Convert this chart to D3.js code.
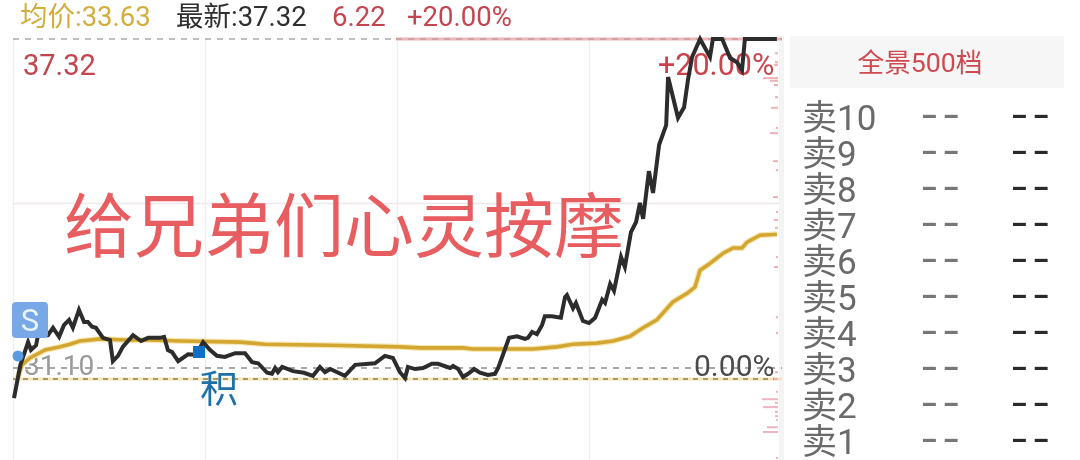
<!DOCTYPE html>
<html><head><meta charset="utf-8">
<script src="https://cdn.jsdelivr.net/npm/d3@7/dist/d3.min.js"></script>
<style>html,body{margin:0;padding:0;background:#fff}svg{display:block}
text{font-family:Roboto,"Noto Sans CJK SC",sans-serif}</style></head><body>
<div id="chart"></div>
<script>
const priceMinutes=[0,2,2.5,4.4,5.3,6.9,8.1,8.8,10.6,12.2,14.1,15.6,17.2,18.4,20.3,21.9,23.1,24.4,25.6,27.8,30,30.9,32.5,34,37.2,39.7,41.9,45.6,46.9,48.1,49.4,51.3,54.4,56.9,59.1,61.3,63.4,65.9,69.1,72.2,74.4,76.3,79.1,80.6,81.6,82.5,83.8,87.2,90.6,93.4,95.6,97.2,98.8,103.4,106.6,112.8,115.9,118.4,120.6,122.2,123.1,125.3,127.8,130.6,132.5,136.3,137.2,138.8,140.3,141.9,143.8,145.6,148.1,150.3,151.3,152.8,154.7,157.2,159.7,160.6,161.9,163.4,165,165.9,168.1,170.9,172.2,172.8,174.7,175.6,177.8,179.7,181.6,183.8,184.7,186.3,187.5,189.7,190.9,192.8,194.4,195.6,196.6,198.4,199.7,201.6,203.8,204.4,207.5,209.4,210.6,211.9,214.4,217.5,218.4,221.3,223.8,225.9,227.5,228.4,238.4];
const priceValues=[30.53,31.16,31.25,31.59,31.44,31.53,31.91,31.72,31.72,31.86,31.69,31.91,32.01,31.86,32.20,31.97,31.97,31.88,31.86,31.67,31.63,31.23,31.33,31.50,31.72,31.61,31.67,31.67,31.69,31.44,31.40,31.23,31.36,31.35,31.59,31.44,31.33,31.31,31.38,31.38,31.21,31.19,31.01,30.99,31.10,31.02,31.12,31.04,31.01,30.95,31.12,31.02,31.08,30.95,31.16,31.19,31.33,31.29,31.02,30.91,31.12,31.08,31.10,31.18,31.18,31.10,31.14,31.08,30.93,30.99,31.08,31.01,30.97,30.99,31.10,31.35,31.67,31.70,31.65,31.67,31.78,31.74,31.91,32.08,32.08,32.05,32.44,32.48,32.23,32.33,31.99,31.95,32.05,32.39,32.33,32.69,32.56,33.20,33.01,33.67,33.86,34.22,33.92,34.82,34.41,35.32,35.69,36.60,35.83,36.03,36.54,36.98,37.32,36.98,37.32,37.32,36.96,36.88,36.73,37.32,37.32];
const avgMinutes=[1,2.5,5,9.7,14.4,17.5,20.6,23.8,26.9,34.7,42.5,51.9,70.6,78.4,98.8,120.6,126.9,140.3,143.4,162.2,169.7,174.7,182.2,187.2,192.5,196.6,200.9,205.9,210.6,212.8,214.4,216.9,221.6,224.7,227.5,229.1,233.1,238.4];
const avgValues=[30.89,31.16,31.29,31.44,31.50,31.55,31.61,31.63,31.65,31.63,31.63,31.61,31.59,31.55,31.53,31.50,31.48,31.48,31.46,31.46,31.50,31.55,31.57,31.61,31.70,31.86,32.01,32.35,32.52,32.63,32.95,33.05,33.27,33.37,33.37,33.48,33.61,33.63];
const depthPrices=[37.05,36.88,36.83,36.58,36.53,36.45,36.22,36.02,35.64,35.54,35.01,34.84,34.33,34.05,33.90,33.75,33.20,33.01,32.06,31.76,31.02,30.89,30.65,30.51,30.44,30.36,30.27,30.19,30.12,29.98,29.89,29.40];
const depthVolumes=[3,3,4,15,8,4,3,7,2,8,5,2,5,2,4,3,2,4,2,2,3,4,2,16,3,15,3,3,2,11,15,2];
const gridMinutes=[60,120,180];
const sellLabels=["卖10","卖9","卖8","卖7","卖6","卖5","卖4","卖3","卖2","卖1"];
const prevClose=31.10, limitUp=37.32, openPrice=30.89, midPrice=34.21;

const W=1080,H=460;
const svg=d3.select("#chart").append("svg").attr("width",W).attr("height",H).style("filter","blur(0.5px)");
const x=d3.scaleLinear().domain([0,240]).range([14,782]);
const y=d3.scaleLinear().domain([31.10,37.32]).range([368,39]);
const w=d3.scaleLinear().domain([0,16]).range([0,16]);

// grid
svg.append("g").selectAll("line").data([0,...gridMinutes]).join("line")
 .attr("x1",d=>x(d)-0.5).attr("x2",d=>x(d)-0.5).attr("y1",39).attr("y2",H)
 .attr("stroke","#eeeeee").attr("stroke-width",1.5);
svg.append("rect").attr("x",779).attr("y",36).attr("width",5).attr("height",H-36).attr("fill","#f4f4f4");
svg.append("line").attr("x1",14).attr("x2",779).attr("y1",y(midPrice)).attr("y2",y(midPrice)).attr("stroke","#efe8e8").attr("stroke-width",1.5);

// reference lines
svg.append("line").attr("x1",13).attr("x2",x(120)).attr("y1",y(limitUp)).attr("y2",y(limitUp))
 .attr("stroke","#aaa").attr("stroke-width",1.5).attr("stroke-dasharray","6 6");
svg.append("line").attr("x1",x(120)-2).attr("x2",782).attr("y1",y(limitUp)).attr("y2",y(limitUp))
 .attr("stroke","#eeb8bb").attr("stroke-width",3);
svg.append("line").attr("x1",x(120)-2).attr("x2",782).attr("y1",y(limitUp)).attr("y2",y(limitUp))
 .attr("stroke","#b88a8c").attr("stroke-width",1.2).attr("stroke-dasharray","6 6");
svg.append("line").attr("x1",13).attr("x2",782).attr("y1",y(prevClose)).attr("y2",y(prevClose))
 .attr("stroke","#a8a8a8").attr("stroke-width",1.8).attr("stroke-dasharray","6 6");
svg.append("line").attr("x1",13).attr("x2",782).attr("y1",y(openPrice)).attr("y2",y(openPrice))
 .attr("stroke","#f5e6b8").attr("stroke-width",3);
svg.append("line").attr("x1",13).attr("x2",782).attr("y1",y(openPrice)).attr("y2",y(openPrice))
 .attr("stroke","#8f7f55").attr("stroke-width",1.5).attr("stroke-dasharray","5 5");

// depth bars
svg.append("g").selectAll("rect").data(depthPrices).join("rect")
 .attr("x",(d,i)=>778-w(depthVolumes[i])).attr("y",d=>y(d)-1)
 .attr("width",(d,i)=>w(depthVolumes[i])).attr("height",2)
 .attr("fill",d=>d<31?"#eeb4c0":"#eeb0b4");

// labels under lines
const T=(s,px,py,size,fill,anchor)=>svg.append("text").text(s).attr("x",px).attr("y",py)
 .attr("font-size",size).attr("fill",fill).attr("text-anchor",anchor||"start");
T("31.10",24,375,28,"#9a9a9a");
T("0.00%",694,376,30,"#4a4a4a");
T("37.32",23,74.5,29,"#c4444e");
T("+20.00%",658,74.5,30.5,"#c9434d");
T("给兄弟们心灵按摩",64,252,70,"#e75d60");

// lines
const lineAvg=d3.line().x((d,i)=>x(avgMinutes[i])).y(d=>y(d));
const linePrice=d3.line().x((d,i)=>x(priceMinutes[i])).y(d=>y(d));
svg.append("path").attr("d",lineAvg(avgValues)).attr("fill","none").attr("stroke","#f6e7b5").attr("stroke-width",6);
svg.append("path").attr("d",lineAvg(avgValues)).attr("fill","none").attr("stroke","#d3a531").attr("stroke-width",3.6);
svg.append("path").attr("d",linePrice(priceValues)).attr("fill","none").attr("stroke","#2c2c2c").attr("stroke-width",4).attr("stroke-linejoin","miter");

// markers
svg.append("circle").attr("cx",18).attr("cy",356).attr("r",5.5).attr("fill","#5a9be0");
svg.append("rect").attr("x",12).attr("y",302).attr("width",36).attr("height",36).attr("rx",4).attr("fill","#78a8e6");
T("S",30,331,31,"#e8f4ff","middle");
svg.append("rect").attr("x",193).attr("y",346).attr("width",12).attr("height",12).attr("fill","#0f6fc6");
T("积",219,402,38,"#1f70a8","middle");

// header
T("均价:33.63",20,26,27.5,"#d2ae3e");
T("最新:37.32",176,26,27.5,"#2f2f2f");
T("6.22",332,26,27.5,"#c4454f");
T("+20.00%",407,26,27.5,"#c4454f");

// right panel
svg.append("rect").attr("x",790).attr("y",36).attr("width",274).attr("height",52).attr("fill","#f6f6f6");
T("全景500档",920,72,26.7,"#cf4a50","middle");
const rows=svg.append("g").selectAll("g").data(sellLabels).join("g")
 .attr("transform",(d,i)=>`translate(0,${118+i*36})`);
rows.append("text").text(d=>d).attr("x",802).attr("y",12).attr("font-size",35).attr("fill","#6a6a6a");
rows.append("text").text("--").attr("transform","translate(922,11) scale(1.5,1.2)").attr("font-size",36).attr("letter-spacing",4.5).attr("fill","#777");
rows.append("text").text("--").attr("transform","translate(1012,11) scale(1.5,1.2)").attr("font-size",36).attr("letter-spacing",4.5).attr("fill","#2a2a2a");
</script></body></html>
